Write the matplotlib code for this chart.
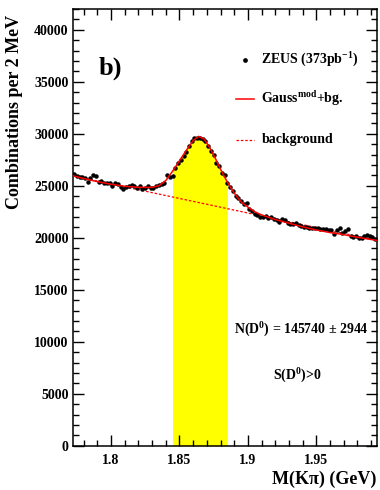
"""
D0 -> K pi invariant mass distribution, ZEUS (373 pb^-1).
"""

import numpy as np
import matplotlib
matplotlib.use('Agg')
import matplotlib.pyplot as plt
from matplotlib.ticker import MultipleLocator, FormatStrFormatter

# data points (2 MeV bins)
mass_start = 1.773
bin_width = 0.002
counts = [
    26100, 25900, 25850, 25800, 25750, 25400, 25700, 26000, 25900, 25400,
    25500, 25300, 25250, 25300, 25000, 25250, 25200, 24900, 24700, 24900,
    25000, 25050, 24950, 24800, 24950, 24700, 24750, 24950, 24800, 24750,
    24950, 25100, 25200, 25250, 26050, 25850, 25950, 26700, 27200, 27500,
    27900, 28200, 28800, 29300, 29550, 29600, 29600, 29500, 29300, 28800,
    28300, 28000, 27200, 26900, 26200, 26000, 25300, 24900, 24500, 24000,
    23850, 23500, 23200, 23350, 22800, 22600, 22300, 22200, 22000, 22000,
    22050, 21900, 21950, 21800, 21700, 21500, 21800, 21700, 21400, 21300,
    21350, 21450, 21200, 21100, 21050, 21050, 20950, 20900, 20950, 20900,
    20850, 20800, 20800, 20750, 20750, 20400, 20750, 20900, 20500, 20650,
    20800, 20200, 20100, 20150, 20000, 19950, 20150, 20250, 20200, 20100,
    19850,
]

# fit curve (Gauss^mod + background)
fit_x = [1.7725, 1.780, 1.790, 1.800, 1.810, 1.820, 1.830, 1.835, 1.840,
         1.845, 1.850, 1.855, 1.860, 1.864, 1.868, 1.872, 1.876, 1.880,
         1.885, 1.890, 1.895, 1.900, 1.905, 1.910, 1.920, 1.930, 1.940,
         1.950, 1.960, 1.970, 1.980, 1.994]
fit_y = [25950, 25700, 25400, 25150, 24950, 24850, 24850, 25000, 25500,
         26400, 27400, 28400, 29350, 29750, 29500, 28700, 27700, 26600,
         25350, 24300, 23450, 22950, 22500, 22200, 21750, 21400, 21050,
         20750, 20500, 20300, 20050, 19750]

# background line
bg_x = [1.7725, 1.994]
bg_y = [25950, 19750]

# signal window
sig_lo, sig_hi = 1.845, 1.885

plt.rcParams['font.family'] = ['Liberation Serif', 'DejaVu Serif']
plt.rcParams['font.weight'] = 'bold'
plt.rcParams['mathtext.fontset'] = 'custom'
plt.rcParams['mathtext.rm'] = 'Liberation Serif:bold'
plt.rcParams['mathtext.it'] = 'Liberation Serif:bold'
plt.rcParams['mathtext.bf'] = 'Liberation Serif:bold'
plt.rcParams['mathtext.default'] = 'rm'

fig = plt.figure(figsize=(3.8, 4.9), dpi=100)
ax = fig.add_axes([0.193, 0.0904, 0.798, 0.8912])

mass = mass_start + bin_width * np.arange(len(counts))
fx = np.array(fit_x)
fy = np.array(fit_y)

ax.fill_between(fx, 0, fy, where=(fx >= sig_lo) & (fx <= sig_hi),
                color='#ffff00', lw=0, zorder=1)
ax.plot(bg_x, bg_y, color='red', ls=(0, (2, 1.5)), lw=0.9, zorder=2)
ax.plot(mass, counts, 'o', color='black', ms=2.2, zorder=3)
ax.plot(fx, fy, color='red', lw=1.1, zorder=4)

ax.set_xlim(1.7725, 1.994)
ax.set_ylim(0, 42000)

# ROOT-like ticks
ax.xaxis.set_major_locator(MultipleLocator(0.05))
ax.xaxis.set_minor_locator(MultipleLocator(0.01))
ax.xaxis.set_major_formatter(FormatStrFormatter('%g'))
ax.yaxis.set_major_locator(MultipleLocator(5000))
ax.yaxis.set_minor_locator(MultipleLocator(1000))
ax.tick_params(which='both', direction='in', top=True, right=True,
               labelsize=10, width=1)
ax.tick_params(which='major', length=8)
ax.tick_params(which='minor', length=4)
ax.tick_params(axis='x', pad=6)
for s in ax.spines.values():
    s.set_linewidth(1.1)
for lbl in ax.get_xticklabels() + ax.get_yticklabels():
    lbl.set_fontweight('bold')

ax.set_ylabel('Combinations per 2 MeV', fontsize=13, fontweight='bold')
ax.yaxis.set_label_coords(-0.165, 0.765)
ax.set_xlabel('M(Kπ) (GeV)', fontsize=13, fontweight='bold', ha='right')
ax.xaxis.set_label_coords(1.0, -0.058)

ax.text(0.082, 0.85, 'b)', transform=ax.transAxes, fontsize=19,
        fontweight='bold')

# legend by hand
ax.plot([0.566], [0.883], 'o', color='black', ms=2.4, transform=ax.transAxes)
ax.text(0.62, 0.883, 'ZEUS (373pb$^{-1}$)', transform=ax.transAxes,
        fontsize=10, va='center')
ax.plot([0.535, 0.595], [0.795, 0.795], color='red', lw=1.1,
        transform=ax.transAxes)
ax.text(0.62, 0.795, 'Gauss$^{mod}$+bg.', transform=ax.transAxes,
        fontsize=10, va='center')
ax.plot([0.535, 0.595], [0.701, 0.701], color='red', ls=(0, (2, 1.5)),
        lw=0.9, transform=ax.transAxes)
ax.text(0.62, 0.701, 'background', transform=ax.transAxes,
        fontsize=10, va='center')

ax.text(0.53, 0.266, 'N(D$^{0}$) = 145740 ± 2944', transform=ax.transAxes,
        fontsize=10, va='center')
ax.text(0.74, 0.16, 'S(D$^{0}$)>0', transform=ax.transAxes,
        fontsize=10, va='center', ha='center')

fig.savefig('out.png', dpi=100)
